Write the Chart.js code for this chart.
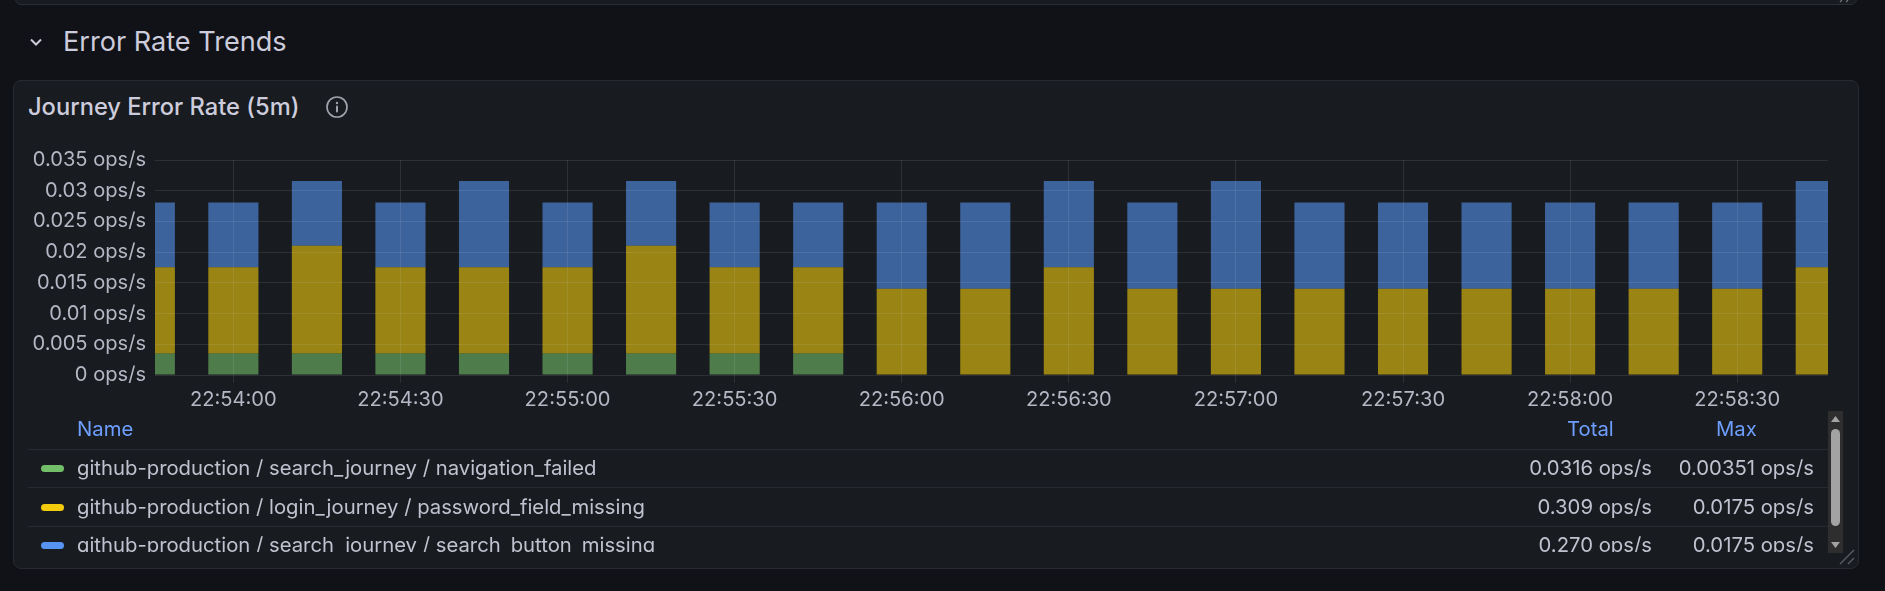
<!DOCTYPE html>
<html><head><meta charset="utf-8">
<script src="https://cdn.jsdelivr.net/npm/chart.js@4/dist/chart.umd.min.js"></script>
<style>
html,body{margin:0;padding:0;background:#111217;width:1885px;height:591px;overflow:hidden;font-family:Inter,sans-serif;color:#ccccdc}
.abs{position:absolute;white-space:nowrap}
#prev{left:15px;top:-20px;width:1840px;height:23px;background:#181b1f;border:1px solid #2a2d33;border-radius:6px}
#panel{left:13px;top:80px;width:1844px;height:487px;background:#181b1f;border:1px solid #272a30;border-radius:8px;box-sizing:content-box}
#section{left:63px;top:27px;font-size:27.1px;line-height:30px;font-weight:400;color:#ccccdc}
#title{left:28px;top:94px;font-size:23.7px;line-height:26px;font-weight:450;color:#ccccdc}
canvas{position:absolute;left:0;top:0}
.hline{position:absolute;left:28px;width:1800px;height:1px;background:#272a30}
.hdr{position:absolute;top:417px;font-size:20.3px;line-height:24px;color:#6e9fff}
#rows{position:absolute;left:0;top:411px;width:1885px;height:141px;overflow:hidden}
.cell{position:absolute;font-size:20.3px;line-height:24px;color:#c0c2d0;white-space:nowrap}
.sw{position:absolute;left:41px;width:23px;height:7px;border-radius:4px}
</style></head><body>
<div class="abs" id="prev"></div>
<svg class="abs" style="left:27px;top:33px" width="18" height="18" viewBox="0 0 18 18"><path d="M4 6.5L9 11.5l5-5" fill="none" stroke="#ccccdc" stroke-width="2"/></svg>
<svg class="abs" style="left:1838px;top:0" width="20" height="5"><path d="M2 2l2 -2M8 2l2 -2" stroke="#777" stroke-width="1.2"/></svg>
<div class="abs" id="section">Error Rate Trends</div>
<div class="abs" id="panel"></div>
<div class="abs" id="title">Journey Error Rate (5m)</div>
<svg class="abs" style="left:325px;top:95px" width="24" height="24" viewBox="0 0 24 24"><circle cx="12" cy="12" r="10" fill="none" stroke="#a0a2ac" stroke-width="1.7"/><circle cx="12" cy="8" r="1.2" fill="#a0a2ac"/><rect x="11" y="10.5" width="2" height="7" rx="1" fill="#a0a2ac"/></svg>
<canvas id="c" width="1885" height="591" style="width:1885px;height:591px"></canvas>
<div id="legend"></div>
<script>
const timeLabels = ["22:53:45","22:54:00","22:54:15","22:54:30","22:54:45","22:55:00","22:55:15","22:55:30","22:55:45","22:56:00","22:56:15","22:56:30","22:56:45","22:57:00","22:57:15","22:57:30","22:57:45","22:58:00","22:58:15","22:58:30","22:58:45"];
const xTickLabels = ["22:54:00","22:54:30","22:55:00","22:55:30","22:56:00","22:56:30","22:57:00","22:57:30","22:58:00","22:58:30"];
const navigationFailed = [0.00351,0.00351,0.00351,0.00351,0.00351,0.00351,0.00351,0.00351,0.00351,0,0,0,0,0,0,0,0,0,0,0,0];
const passwordFieldMissing = [0.01404,0.01404,0.01754,0.01404,0.01404,0.01404,0.01754,0.01404,0.01404,0.01404,0.01404,0.01754,0.01404,0.01404,0.01404,0.01404,0.01404,0.01404,0.01404,0.01404,0.01754];
const searchButtonMissing = [0.01053,0.01053,0.01053,0.01053,0.01404,0.01053,0.01053,0.01053,0.01053,0.01404,0.01404,0.01404,0.01404,0.01754,0.01404,0.01404,0.01404,0.01404,0.01404,0.01404,0.01404];
const seriesNames = ["github-production / search_journey / navigation_failed","github-production / login_journey / password_field_missing","github-production / search_journey / search_button_missing"];
const seriesColors = ["#73BF69","#F2CC0C","#5794F2"];
const totals = ["0.0316 ops/s","0.309 ops/s","0.270 ops/s"];
const maxes = ["0.00351 ops/s","0.0175 ops/s","0.0175 ops/s"];
const yTicks = [0,0.005,0.01,0.015,0.02,0.025,0.03,0.035];

const toSec = s => { const [h,m,sec] = s.split(":").map(Number); return h*3600+m*60+sec; };
const toLabel = v => { const p = n => String(n).padStart(2,"0"); return p(Math.floor(v/3600))+":"+p(Math.floor(v%3600/60))+":"+p(v%60); };
const hexA = (h,a) => "rgba("+parseInt(h.slice(1,3),16)+","+parseInt(h.slice(3,5),16)+","+parseInt(h.slice(5,7),16)+","+a+")";
const pts = arr => arr.map((y,i)=>({x:toSec(timeLabels[i]),y}));
const mkDs = (name,vals,col) => ({label:name,data:pts(vals),backgroundColor:hexA(col,0.6),borderWidth:0,barPercentage:0.6,categoryPercentage:1,stack:"s"});
const gridCol = "rgba(204,204,220,0.12)";
const tickFont = {family:"Inter",size:20.1};
new Chart(document.getElementById("c"),{
 type:"bar",
 data:{datasets:[mkDs(seriesNames[0],navigationFailed,seriesColors[0]),mkDs(seriesNames[1],passwordFieldMissing,seriesColors[1]),mkDs(seriesNames[2],searchButtonMissing,seriesColors[2])]},
 options:{responsive:false,animation:false,devicePixelRatio:1,
  layout:{padding:{left:0,right:57,top:160,bottom:0}},
  plugins:{legend:{display:false},title:{display:false},tooltip:{enabled:false}},
  scales:{
   x:{type:"linear",bounds:"data",offset:false,stacked:true,min:toSec("22:53:45")+0.93,max:toSec("22:58:45")+1.3,
      afterFit(s){s.height=591-375;},
      afterBuildTicks(s){s.ticks=xTickLabels.map(t=>({value:toSec(t)}));},
      ticks:{autoSkip:false,maxRotation:0,color:"#b5b7c4",font:tickFont,padding:5,callback:v=>toLabel(v)},
      grid:{offset:false,color:gridCol,z:1,tickLength:8,tickColor:gridCol,drawTicks:true},border:{display:false}},
   y:{stacked:true,min:0,max:0.035,
      afterFit(s){s.width=155;},
      afterBuildTicks(s){s.ticks=yTicks.map(v=>({value:v}));},
      ticks:{color:"#b5b7c4",font:tickFont,padding:9,callback:v=>v+" ops/s"},
      grid:{color:gridCol,z:1,drawTicks:false},border:{display:false}}
  }}
});
// legend table
const L=document.getElementById("legend");
let html='<div class="hdr" style="left:77px">Name</div><div class="hdr" style="left:1567px">Total</div><div class="hdr" style="left:1716px">Max</div>';
html+='<div class="hline" style="top:449px"></div><div class="hline" style="top:487px"></div><div class="hline" style="top:526px"></div>';
html+='<div id="rows">';
const rowY=[468,507,545];
seriesNames.forEach((n,i)=>{const y=rowY[i]-411;
 html+='<div class="sw" style="top:'+(y-3.5)+'px;background:'+seriesColors[i]+'"></div>';
 html+='<div class="cell" style="left:77px;top:'+(y-12)+'px">'+n+'</div>';
 html+='<div class="cell" style="right:'+(1885-1652)+'px;top:'+(y-12)+'px">'+totals[i]+'</div>';
 html+='<div class="cell" style="right:'+(1885-1814)+'px;top:'+(y-12)+'px">'+maxes[i]+'</div>';
});
html+='</div>';
html+='<svg class="abs" style="left:1828px;top:411px" width="15" height="142"><rect width="15" height="142" fill="#2e2e2e"/><rect x="3" y="18" width="9" height="97" rx="4.5" fill="#a3a3a3"/><path d="M7.5 5l4.5 6h-9z" fill="#a3a3a3"/><path d="M7.5 137l4.5-6h-9z" fill="#a3a3a3"/></svg>';
html+='<svg class="abs" style="left:1838px;top:548px" width="18" height="18"><path d="M2 16L16 2M10 16L16 10" stroke="#565962" stroke-width="1.5"/></svg>';
L.innerHTML=html;
</script>
</body></html>
